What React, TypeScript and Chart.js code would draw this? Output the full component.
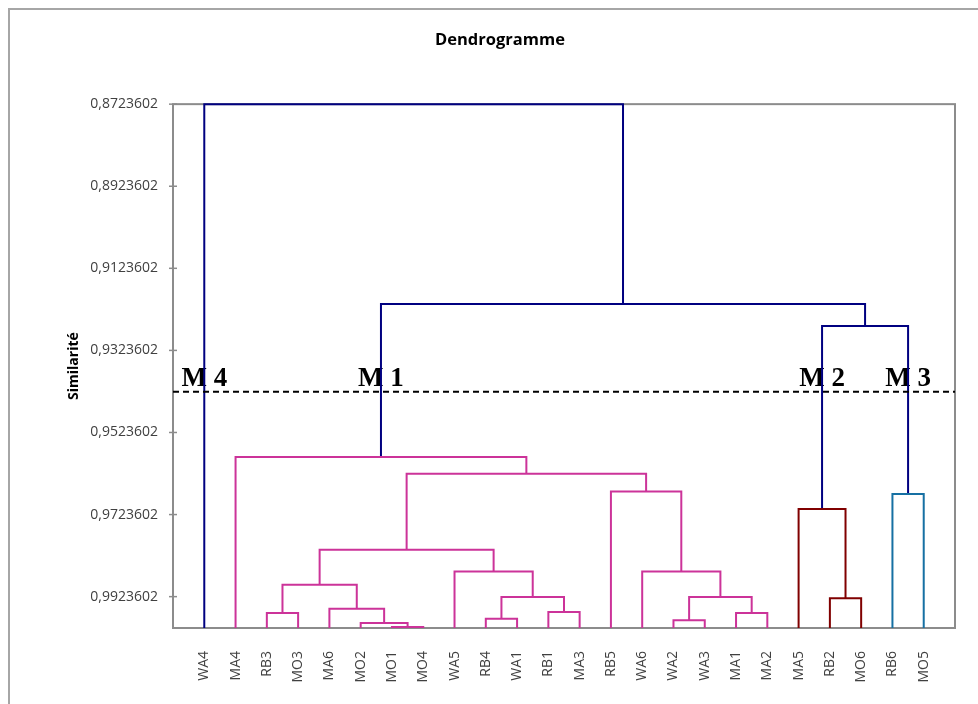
import React, { useEffect, useRef } from 'react';
import { Chart, registerables } from 'chart.js';

Chart.register(...registerables);

// Leaves (x-axis categories), left to right
const leafNames = ['WA4', 'MA4', 'RB3', 'MO3', 'MA6', 'MO2', 'MO1', 'MO4', 'WA5', 'RB4', 'WA1', 'RB1', 'MA3', 'RB5', 'WA6', 'WA2', 'WA3', 'MA1', 'MA2', 'MA5', 'RB2', 'MO6', 'RB6', 'MO5'];

// Linkage: merge k creates node 24+k from mergeLeft[k] and mergeRight[k] at mergeSimilarity[k]
const mergeLeft = [6, 5, 15, 9, 2, 17, 11, 4, 20, 27, 26, 28, 8, 14, 35, 19, 22, 13, 38, 1, 39, 43, 0];
const mergeRight = [7, 24, 16, 10, 3, 18, 12, 25, 21, 30, 29, 31, 33, 34, 36, 32, 23, 37, 41, 42, 40, 44, 45];
const mergeSimilarity = [0.99975, 0.99877, 0.99814, 0.99773, 0.99634, 0.99634, 0.9961, 0.99529, 0.99278, 0.99244, 0.99244, 0.98945, 0.98621, 0.98621, 0.98093, 0.97102, 0.96737, 0.96674, 0.96243, 0.95836, 0.9264, 0.92105, 0.8723602];

// Y axis
const yTicks = [0.8723602, 0.8923602, 0.9123602, 0.9323602, 0.9523602, 0.9723602, 0.9923602];
const yMin = 0.8723602;
const yMax = 1.0;

// Truncation line and clusters (left to right)
const cutSimilarity = 0.94243;
const clusterNames = ['M 4', 'M 1', 'M 2', 'M 3'];
const clusterColors = ['#000080', '#CC3399', '#800000', '#1670A3'];
const aboveCutColor = '#000080';

function buildTree() {
  const n = leafNames.length;
  const total = n + mergeLeft.length;
  const nodeX: number[] = [];
  const nodeH: number[] = [];
  const parent: number[] = new Array(total).fill(-1);
  for (let i = 0; i < n; i++) {
    nodeX[i] = i;
    nodeH[i] = yMax;
  }
  mergeLeft.forEach((a, k) => {
    const b = mergeRight[k];
    const id = n + k;
    nodeX[id] = (nodeX[a] + nodeX[b]) / 2;
    nodeH[id] = mergeSimilarity[k];
    parent[a] = id;
    parent[b] = id;
  });
  const roots: number[] = [];
  for (let i = 0; i < total; i++) {
    const p = parent[i];
    if (nodeH[i] > cutSimilarity && p >= 0 && nodeH[p] < cutSimilarity) roots.push(i);
  }
  roots.sort((a, b) => nodeX[a] - nodeX[b]);
  const clusterOf: number[] = new Array(total).fill(-1);
  for (let i = 0; i < total; i++) {
    let c = i;
    while (c >= 0) {
      const idx = roots.indexOf(c);
      if (idx >= 0) {
        clusterOf[i] = idx;
        break;
      }
      c = parent[c];
    }
  }
  return { n, nodeX, nodeH, roots, clusterOf };
}

export default function App() {
  const ref = useRef<HTMLCanvasElement | null>(null);

  useEffect(() => {
    document.body.style.margin = '0';
    document.body.style.overflow = 'hidden';
    const canvas = ref.current;
    if (!canvas) return;
    const { n, nodeX, nodeH, roots, clusterOf } = buildTree();

    const datasets: any[] = mergeLeft.map((a, k) => {
      const b = mergeRight[k];
      const id = n + k;
      const h = nodeH[id];
      const color = h > cutSimilarity ? clusterColors[clusterOf[id]] : aboveCutColor;
      return {
        type: 'line',
        data: [
          { x: nodeX[a], y: nodeH[a] },
          { x: nodeX[a], y: h },
          { x: nodeX[b], y: h },
          { x: nodeX[b], y: nodeH[b] },
        ],
        borderColor: color,
        borderWidth: 2,
        pointRadius: 0,
        tension: 0,
        fill: false,
        clip: false,
        order: 1,
      };
    });
    datasets.push({
      type: 'line',
      data: [
        { x: -1, y: cutSimilarity },
        { x: leafNames.length, y: cutSimilarity },
      ],
      borderColor: '#000000',
      borderWidth: 2,
      borderDash: [6, 4],
      pointRadius: 0,
      fill: false,
      clip: false,
      order: 0,
    });

    const decor = {
      id: 'decor',
      beforeDatasetsDraw(chart: any) {
        const { ctx, chartArea, scales } = chart;
        ctx.save();
        ctx.strokeStyle = '#a6a6a6';
        ctx.lineWidth = 2;
        ctx.beginPath();
        ctx.moveTo(9, 704);
        ctx.lineTo(9, 9);
        ctx.lineTo(978, 9);
        ctx.stroke();
        ctx.strokeStyle = '#8c8c8c';
        ctx.lineWidth = 2;
        ctx.strokeRect(chartArea.left, chartArea.top, chartArea.right - chartArea.left, chartArea.bottom - chartArea.top);
        ctx.lineWidth = 1.5;
        yTicks.forEach((v) => {
          const y = scales.y.getPixelForValue(v);
          ctx.beginPath();
          ctx.moveTo(chartArea.left - 4, y);
          ctx.lineTo(chartArea.left + 4, y);
          ctx.stroke();
        });
        ctx.fillStyle = '#000000';
        ctx.font = 'bold 27px "Liberation Serif", serif';
        ctx.textAlign = 'center';
        ctx.textBaseline = 'alphabetic';
        const yCut = scales.y.getPixelForValue(cutSimilarity);
        roots.forEach((r, j) => {
          ctx.fillText(clusterNames[j], scales.x.getPixelForValue(nodeX[r]), yCut - 6);
        });
        ctx.restore();
      },
    };

    const chart = new Chart(canvas, {
      type: 'line',
      data: { datasets },
      plugins: [decor],
      options: {
        animation: false,
        responsive: false,
        devicePixelRatio: 1,
        layout: { padding: { left: 45, right: 23, top: 0, bottom: 0 } },
        plugins: {
          legend: { display: false },
          tooltip: { enabled: false },
          title: {
            display: true,
            text: 'Dendrogramme',
            color: '#000000',
            font: { family: '"Open Sans", sans-serif', size: 16.5, weight: 'bold', lineHeight: 1.1 },
            padding: { top: 31, bottom: 55 },
          },
        },
        scales: {
          x: {
            type: 'linear',
            min: -1,
            max: leafNames.length,
            grid: { display: false },
            border: { display: false },
            afterBuildTicks: (scale: any) => {
              scale.ticks = leafNames.map((_, i) => ({ value: i }));
            },
            afterFit: (scale: any) => {
              scale.height = 76;
            },
            ticks: {
              autoSkip: false,
              minRotation: 90,
              maxRotation: 90,
              padding: 15,
              color: '#404040',
              font: { family: '"Open Sans", sans-serif', size: 14 },
              callback: (_v: any, i: number) => leafNames[i],
            },
          },
          y: {
            type: 'linear',
            reverse: true,
            min: yMin,
            max: yMax,
            grid: { display: false },
            border: { display: false },
            afterBuildTicks: (scale: any) => {
              scale.ticks = yTicks.map((v) => ({ value: v }));
            },
            afterFit: (scale: any) => {
              scale.width = 128;
            },
            ticks: {
              padding: 7,
              color: '#404040',
              font: { family: '"Open Sans", sans-serif', size: 14 },
              callback: (v: any) => Number(v).toFixed(7).replace('.', ','),
            },
            title: {
              display: true,
              text: 'Similarité',
              color: '#000000',
              font: { family: '"Open Sans", sans-serif', size: 14, weight: 'bold' },
              padding: { top: 21, bottom: 0 },
            },
          },
        },
      },
    });
    return () => chart.destroy();
  }, []);

  return (
    <div style={{ width: 978, height: 704, position: 'relative' }}>
      <canvas ref={ref} width={978} height={704} style={{ display: 'block' }} />
    </div>
  );
}
